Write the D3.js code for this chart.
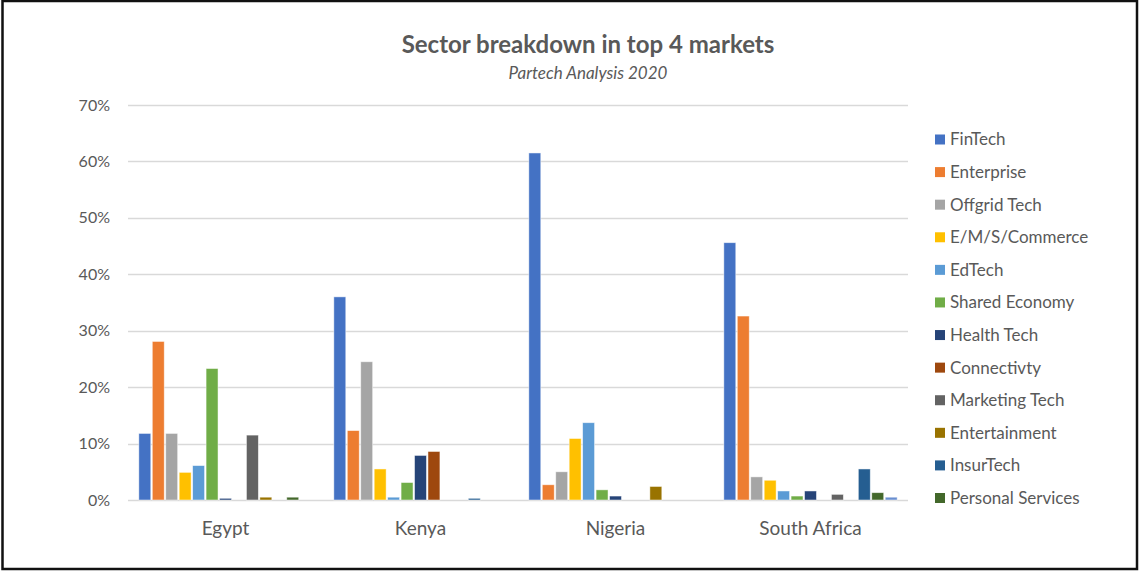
<!DOCTYPE html>
<html><head><meta charset="utf-8">
<script src="https://cdn.jsdelivr.net/npm/d3@7"></script>
<style>
html,body{margin:0;padding:0;background:#fff;}
svg{display:block;}
</style></head>
<body>
<svg id="chart" width="1139" height="571"></svg>
<script>
const markets = ["Egypt", "Kenya", "Nigeria", "South Africa"];
const sectors = ["FinTech","Enterprise","Offgrid Tech","E/M/S/Commerce","EdTech","Shared Economy","Health Tech","Connectivty","Marketing Tech","Entertainment","InsurTech","Personal Services","Other"];
const legendSectors = sectors.slice(0, 12);
const colors = ["#4472C4","#ED7D31","#A5A5A5","#FFC000","#5B9BD5","#70AD47","#264478","#9E480E","#636363","#997300","#255E91","#43682B","#698ED0"];
// values in %, one array per market, ordered as sectors
const egypt       = [11.8, 28.1, 11.8, 4.9, 6.1, 23.3, 0.3, 0, 11.5, 0.5, 0, 0.5, 0];
const kenya       = [36.0, 12.3, 24.5, 5.5, 0.5, 3.1, 7.9, 8.6, 0, 0, 0.3, 0, 0];
const nigeria     = [61.5, 2.7, 5.0, 10.9, 13.7, 1.8, 0.7, 0, 0, 2.4, 0, 0, 0];
const southAfrica = [45.6, 32.6, 4.1, 3.5, 1.6, 0.7, 1.6, 0, 1.0, 0, 5.5, 1.3, 0.5];
const yTicks = [0, 10, 20, 30, 40, 50, 60, 70];

const values = [egypt, kenya, nigeria, southAfrica];
const svg = d3.select("#chart");
const font = "Lato, 'Open Sans', sans-serif";
const txt = "#595959";

// frame
svg.append("rect").attr("x",2.5).attr("y",1).attr("width",1134.5).attr("height",568)
  .attr("fill","#fff").attr("stroke","#111").attr("stroke-width",2.5);

const pLeft = 128, pRight = 908, pTop = 105, pBottom = 500;
const xg = d3.scaleBand().domain(markets).range([pLeft, pRight]).padding(0);
const x1 = d3.scaleBand().domain(sectors).range([0, xg.bandwidth()]).paddingOuter(0.75).paddingInner(0);
const y = d3.scaleLinear().domain([0, 70]).range([pBottom, pTop]);

// grid
svg.append("g").selectAll("line").data(yTicks).join("line")
  .attr("x1", pLeft).attr("x2", pRight)
  .attr("y1", d => Math.round(y(d)) + 0.5).attr("y2", d => Math.round(y(d)) + 0.5)
  .attr("stroke", "#d9d9d9").attr("stroke-width", 1.5);

// y labels
svg.append("g").selectAll("text").data(yTicks).join("text")
  .attr("x", 110).attr("y", d => y(d)).attr("dy", "0.35em")
  .attr("text-anchor", "end").attr("font-family", font).attr("font-size", 16)
  .attr("fill", txt).text(d => d + "%");

// bars
const groups = svg.append("g").selectAll("g").data(markets).join("g")
  .attr("transform", d => `translate(${xg(d)},0)`);
groups.selectAll("rect")
  .data((m, i) => sectors.map((s, j) => ({s, v: values[i][j], c: colors[j]})).filter(d => d.v > 0))
  .join("rect")
  .attr("x", d => x1(d.s) + 0.75).attr("width", x1.bandwidth() - 1.5)
  .attr("y", d => y(d.v)).attr("height", d => y(0) - y(d.v))
  .attr("fill", d => d.c).attr("stroke", "#fff").attr("stroke-opacity", 0.6).attr("stroke-width", 0.8);

// x labels
svg.append("g").selectAll("text").data(markets).join("text")
  .attr("x", d => xg(d) + xg.bandwidth() / 2).attr("y", 535)
  .attr("text-anchor", "middle").attr("font-family", font).attr("font-size", 19)
  .attr("fill", txt).text(d => d);

// title
svg.append("text").attr("x", 588).attr("y", 53).attr("text-anchor", "middle")
  .attr("font-family", font).attr("font-size", 24).attr("font-weight", "bold")
  .attr("fill", txt).text("Sector breakdown in top 4 markets");
svg.append("text").attr("x", 588).attr("y", 79).attr("text-anchor", "middle")
  .attr("font-family", font).attr("font-size", 17).attr("font-style", "italic")
  .attr("fill", txt).text("Partech Analysis 2020");

// legend
const ly = d3.scalePoint().domain(legendSectors).range([139.5, 498]);
const lg = svg.append("g").selectAll("g").data(legendSectors).join("g")
  .attr("transform", d => `translate(935,${ly(d)})`);
lg.append("rect").attr("x", 0).attr("y", -5).attr("width", 10).attr("height", 10)
  .attr("fill", (d, i) => colors[i]);
lg.append("text").attr("x", 15).attr("y", 0).attr("dy", "0.35em")
  .attr("font-family", font).attr("font-size", 17).attr("fill", txt).text(d => d);
</script>
</body></html>
